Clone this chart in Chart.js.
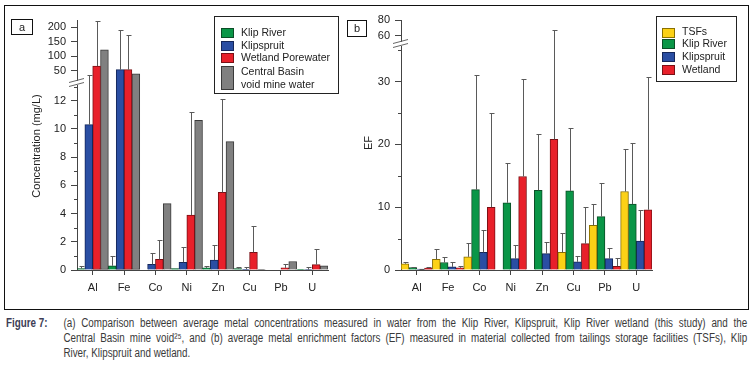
<!DOCTYPE html>
<html><head><meta charset="utf-8">
<script src="https://cdn.jsdelivr.net/npm/chart.js@4/dist/chart.umd.min.js"></script>
<style>
html,body{margin:0;padding:0;background:#fff;width:751px;height:369px;overflow:hidden;}
#frame{position:absolute;left:4px;top:5px;width:743px;height:303px;border:1px solid #111;}
#ca{position:absolute;left:5px;top:6px;}
#cb{position:absolute;left:340px;top:6px;}
#cap{position:absolute;left:6px;top:316px;width:900px;font-family:"Liberation Sans",Arial,sans-serif;font-size:12px;line-height:15px;color:#3a3a3a;transform:scaleX(0.82);transform-origin:0 0;}
#cap .lab{position:absolute;left:0;top:0;font-weight:bold;color:#3d3d55;}
#cap .txt{position:absolute;left:70px;top:0;width:834px;}
#cap .j{text-align:justify;text-align-last:justify;white-space:nowrap;}
</style></head>
<body>
<div id="frame"></div>
<canvas id="ca" width="335" height="302"></canvas>
<canvas id="cb" width="407" height="302"></canvas>
<div id="cap"><div class="lab">Figure 7:</div><div class="txt">
<div class="j">(a) Comparison between average metal concentrations measured in water from the Klip River, Klipspruit, Klip River wetland (this study) and the</div>
<div class="j">Central Basin mine void²⁵, and (b) average metal enrichment factors (EF) measured in material collected from tailings storage facilities (TSFs), Klip</div>
<div>River, Klipspruit and wetland.</div></div></div>
<script>
// ---------- data ----------
const categories = ['Al','Fe','Co','Ni','Zn','Cu','Pb','U'];

// Panel a: concentration (mg/L)
const seriesA = ['Klip River','Klipspruit','Wetland Porewater','Central Basin void mine water'];
const klipRiverConc      = [0.1, 0.3, 0,    0.1,  0.15, 0.1,  0,    0.02];
const klipRiverConcErr   = [0.3, 1.0, null, null, 0.25, 0.2,  null, null];
const klipspruitConc     = [10.3, 54.4, 0.4, 0.55, 0.7, 0.05, 0,    0.03];
const klipspruitConcErr  = [36,  189,  1.2, 1.6,  1.8, 0.2,  null, 0.2];
const wetlandConc        = [67,  54.4, 0.75, 3.9, 5.5, 1.25, 0.15, 0.38];
const wetlandConcErr     = [222, 174,  2.1, 11.2, 12.1, 3.1, 0.45, 1.5];
const centralBasinConc   = [122, 40,   4.7, 10.6, 9.1, 0.02, 0.6,  0.3];
const centralBasinConcErr= [null,null, null,null, null,null, null, null];
const yTicksALow   = [0,2,4,6,8,10,12];
const yMinorALow   = [1,3,5,7,9,11,13];
const yTicksATop   = [50,100,150,200];

// Panel b: enrichment factors
const seriesB = ['TSFs','Klip River','Klipspruit','Wetland'];
const tsfEF          = [1.0, 1.7, 2.1, 0,    0,    2.8, 7.1, 12.5];
const tsfEFErr       = [1.2, 3.4, 4.3, null, null, 5.9, 10.5, 19.3];
const klipRiverEF    = [0.4, 1.2, 12.8, 10.7, 12.7, 12.6, 8.5, 10.5];
const klipRiverEFErr = [0.5, 2.1, 31.0, 17.0, 21.7, 22.6, 13.8, 20.3];
const klipspruitEF   = [0.15, 0.5, 2.8, 1.8, 2.6, 1.3, 1.8, 4.6];
const klipspruitEFErr= [0.2, 1.2, 6.4, 4.0, 4.5, 2.3, 3.5, 9.6];
const wetlandEF      = [0.3, 0.35, 10.0, 14.9, 20.8, 4.2, 0.6, 9.6];
const wetlandEFErr   = [0.45, 0.7, 25.0, 30.4, 67.6, 10.1, 1.9, 30.8];
const yTicksBLow = [0,10,20,30];
const yMinorBLow = [5,15,25,35];
const yTicksBTop = [60,80];

// ---------- styling ----------
const FONT = "'Liberation Sans', Arial, sans-serif";
Chart.defaults.font.family = FONT;
Chart.defaults.font.size = 11;
Chart.defaults.color = '#222';
const C = {
  green:['#0a9647','#0b4d26'], blue:['#2a4ea3','#15275a'], red:['#e8202a','#7a1015'],
  gray:['#808080','#3a3a3a'], yellow:['#fcd116','#8a7000']
};
const AXIS = '#444';

// ---------- plugins ----------
const brokenAxis = {
  id:'brokenAxis',
  afterDatasetsDraw(chart){
    const ctx = chart.ctx, low = chart.scales.y, top = chart.scales.yTop;
    const errCol = '#5a5a5a';
    const pix = v => (v <= low.max) ? low.getPixelForValue(v) : top.getPixelForValue(Math.max(v, top.min));
    chart.data.datasets.forEach((ds, di) => {
      if (!ds.errors) return;
      const meta = chart.getDatasetMeta(di);
      meta.data.forEach((bar, i) => {
        const e = ds.errors[i], v = ds.raw[i];
        if (e == null || v == null) return;
        const x = Math.round(bar.x) + 0.5, y0 = pix(v), y1 = Math.round(pix(e)) + 0.5;
        ctx.save();
        ctx.strokeStyle = errCol; ctx.lineWidth = 1;
        ctx.beginPath();
        ctx.moveTo(x, y0); ctx.lineTo(x, y1);
        ctx.moveTo(x - 2, y1); ctx.lineTo(x + 3, y1);
        ctx.stroke(); ctx.restore();
      });
    });
  },
  afterDraw(chart, args, o){
    const ctx = chart.ctx, low = chart.scales.y, top = chart.scales.yTop;
    const x = low.right, y = low.top;
    ctx.save();
    // minor ticks
    ctx.strokeStyle = AXIS; ctx.lineWidth = 1;
    ctx.beginPath();
    (o.minor || []).forEach(v => {
      if (v > low.max) return;
      const py = Math.round(low.getPixelForValue(v)) + 0.5;
      ctx.moveTo(x - 3, py); ctx.lineTo(x, py);
    });
    ctx.stroke();
    // break marks
    ctx.fillStyle = '#fff';
    ctx.fillRect(x - 2, y - 2, 4, 4);
    ctx.strokeStyle = '#666';
    ctx.beginPath();
    ctx.moveTo(x - 8, y - 0.5); ctx.lineTo(x + 7, y - 4.5);
    ctx.moveTo(x - 8, y + 3.5); ctx.lineTo(x + 7, y - 0.5);
    ctx.stroke();
    ctx.restore();
    // upper-axis tick labels (when requested)
    if (o.topLabels) {
      ctx.save();
      ctx.fillStyle = '#222'; ctx.font = '11px ' + FONT;
      ctx.textAlign = 'right'; ctx.textBaseline = 'middle';
      o.topLabels.forEach(v => ctx.fillText(String(v), top.right - 11, top.getPixelForValue(v)));
      ctx.restore();
    }
    // axis title
    ctx.save();
    ctx.fillStyle = '#222';
    ctx.font = '11px ' + FONT;
    ctx.translate(o.titleX, o.titleY);
    ctx.rotate(-Math.PI / 2);
    ctx.textAlign = 'center'; ctx.textBaseline = 'middle';
    ctx.fillText(o.title, 0, 0);
    ctx.restore();
    // panel letter box
    ctx.save();
    ctx.strokeStyle = '#111'; ctx.lineWidth = 1;
    const b = o.letterBox;
    ctx.strokeRect(b[0] + 0.5, b[1] + 0.5, b[2], b[3]);
    ctx.fillStyle = '#222'; ctx.font = '11px ' + FONT;
    ctx.textAlign = 'center'; ctx.textBaseline = 'middle';
    ctx.fillText(o.letter, b[0] + b[2] / 2 + 0.5, b[1] + b[3] / 2 + 1);
    ctx.restore();
    // legend
    const L = o.legend;
    ctx.save();
    ctx.strokeStyle = '#222'; ctx.lineWidth = 1;
    ctx.strokeRect(L.box[0] + 0.5, L.box[1] + 0.5, L.box[2], L.box[3]);
    ctx.font = '10.5px ' + FONT; ctx.textBaseline = 'middle'; ctx.textAlign = 'left';
    L.items.forEach(it => {
      ctx.fillStyle = it.color[0];
      ctx.fillRect(it.sw[0], it.sw[1], it.sw[2], it.sw[3]);
      ctx.strokeStyle = it.color[1];
      ctx.strokeRect(it.sw[0] + 0.5, it.sw[1] + 0.5, it.sw[2] - 1, it.sw[3] - 1);
      ctx.fillStyle = '#222';
      it.lines.forEach((t, k) => ctx.fillText(t, L.textX, it.ty[k]));
    });
    ctx.restore();
  }
};

function makeDatasets(names, vals, errs, cols, lowMax){
  const out = [];
  names.forEach((n, i) => {
    const raw = vals[i];
    out.push({
      label: n, data: raw.map(v => v == null ? null : Math.min(v, lowMax)),
      raw: raw, errors: errs[i], yAxisID: 'y', stack: 's' + i,
      backgroundColor: cols[i][0], borderColor: cols[i][1], borderWidth: 1,
      borderSkipped: c => raw[c.dataIndex] > lowMax ? 'top' : 'start'
    });
  });
  names.forEach((n, i) => {
    const raw = vals[i];
    if (!raw.some(v => v > lowMax)) return;
    out.push({
      label: n + ' (upper)', data: raw.map(v => v > lowMax ? v : null),
      yAxisID: 'yTop', stack: 's' + i,
      backgroundColor: cols[i][0], borderColor: cols[i][1], borderWidth: 1
    });
  });
  return out;
}

function axisCommon(width, showLabels){
  return {
    stacked: false,
    grid: { drawOnChartArea: false, tickLength: 6, color: AXIS },
    border: { color: AXIS },
    ticks: { padding: 5, color: '#222', autoSkip: false, display: showLabels },
    afterFit: s => { s.width = width; }
  };
}

function makeChart(el, cfg){
  return new Chart(el, {
    type: 'bar',
    data: { labels: categories, datasets: cfg.datasets },
    options: {
      responsive: false, animation: false,
      layout: { padding: cfg.padding },
      categoryPercentage: 1.0, barPercentage: 1.0,
      plugins: { legend: { display: false }, tooltip: { enabled: false }, brokenAxis: cfg.deco },
      scales: {
        x: {
          type: 'category', offset: true,
          grid: { drawOnChartArea: false, offset: false, tickLength: 5, color: AXIS },
          border: { color: AXIS },
          ticks: { padding: 6, color: '#222' },
          afterFit: s => { s.height = 24; }
        },
        y: Object.assign(axisCommon(cfg.axisW, true), {
          type: 'linear', position: 'left', stack: 'v', stackWeight: cfg.lowW,
          min: 0, max: cfg.lowMax,
          afterBuildTicks: s => { s.ticks = cfg.lowTicks.map(v => ({ value: v })); }
        }),
        yTop: Object.assign(axisCommon(cfg.axisW, !cfg.deco.topLabels), {
          type: 'linear', position: 'left', stack: 'v', stackWeight: cfg.topW,
          min: cfg.topMin, max: cfg.topMax,
          afterBuildTicks: s => { s.ticks = cfg.topTicks.map(v => ({ value: v })); }
        })
      }
    },
    plugins: [brokenAxis]
  });
}

// ---------- chart a ----------
const A_LOW_MAX = 13.25;
makeChart(document.getElementById('ca'), {
  datasets: makeDatasets(seriesA,
    [klipRiverConc, klipspruitConc, wetlandConc, centralBasinConc],
    [klipRiverConcErr, klipspruitConcErr, wetlandConcErr, centralBasinConcErr],
    [C.green, C.blue, C.red, C.gray], A_LOW_MAX),
  padding: { top: 14, right: 12, bottom: 14, left: 0 },
  axisW: 72, topW: 63, lowW: 187, topMin: 9, topMax: 224, lowMax: A_LOW_MAX,
  topTicks: yTicksATop, lowTicks: yTicksALow,
  deco: {
    minor: yMinorALow, title: 'Concentration (mg/L)', titleX: 32, titleY: 140,
    letter: 'a', letterBox: [6, 13, 21, 15],
    legend: {
      box: [209, 10, 124, 77], textX: 236,
      items: [
        { color: C.green, sw: [216, 22, 13, 10], lines: [seriesA[0]], ty: [27] },
        { color: C.blue,  sw: [216, 35, 13, 10], lines: [seriesA[1]], ty: [40.3] },
        { color: C.red,   sw: [216, 47, 13, 10], lines: [seriesA[2]], ty: [52.3] },
        { color: C.gray,  sw: [216, 60, 13, 24], lines: ['Central Basin', 'void mine water'], ty: [66.3, 78.7] }
      ]
    }
  }
});

// ---------- chart b ----------
const B_LOW_MAX = 36;
makeChart(document.getElementById('cb'), {
  datasets: makeDatasets(seriesB,
    [tsfEF, klipRiverEF, klipspruitEF, wetlandEF],
    [tsfEFErr, klipRiverEFErr, klipspruitEFErr, wetlandEFErr],
    [C.yellow, C.green, C.blue, C.red], B_LOW_MAX),
  padding: { top: 14, right: 95, bottom: 14, left: 0 },
  axisW: 61, topW: 24, lowW: 226, topMin: 49.5, topMax: 80.6, lowMax: B_LOW_MAX,
  topTicks: yTicksBTop, lowTicks: yTicksBLow,
  deco: {
    minor: yMinorBLow, title: 'EF', titleX: 29, titleY: 137,
    topLabels: yTicksBTop,
    letter: 'b', letterBox: [7, 14, 19, 16],
    legend: {
      box: [316, 10, 80, 65], textX: 342,
      items: [
        { color: C.yellow, sw: [322, 22, 13, 10], lines: [seriesB[0]], ty: [26.3] },
        { color: C.green,  sw: [322, 33, 13, 10], lines: [seriesB[1]], ty: [37.8] },
        { color: C.blue,   sw: [322, 46, 13, 10], lines: [seriesB[2]], ty: [50.7] },
        { color: C.red,    sw: [322, 59, 13, 10], lines: [seriesB[3]], ty: [64] }
      ]
    }
  }
});
</script>
</body></html>
